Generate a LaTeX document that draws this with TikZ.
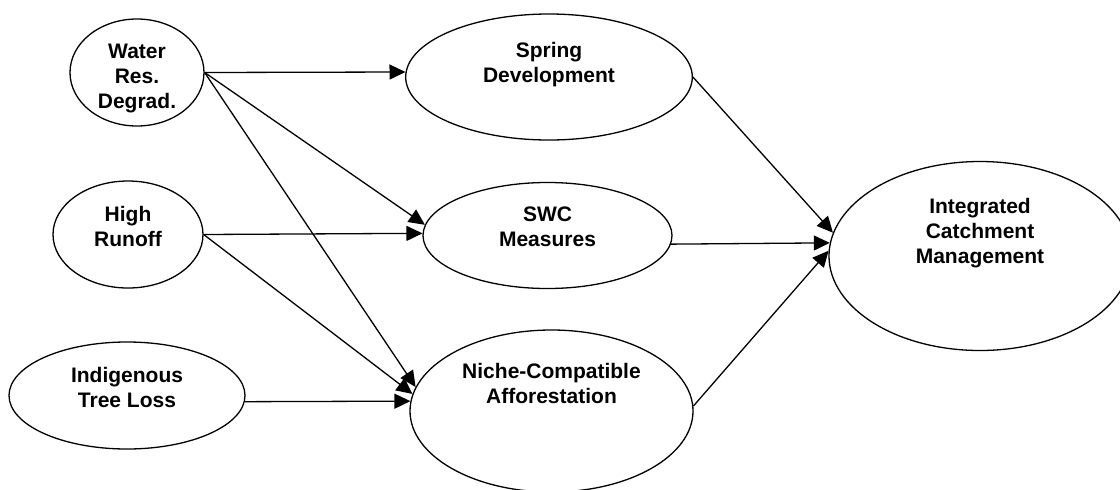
\documentclass[tikz,border=0pt]{standalone}
\usepackage{fontspec}
\setmainfont{Liberation Sans}
\usetikzlibrary{arrows.meta, shapes.geometric}
\tikzset{oval/.style={ellipse, draw=black, line width=0.65pt, inner sep=0pt},ovaltext/.style={font=\bfseries\fontsize{10.5pt}{12.5pt}\selectfont, align=center, inner sep=0pt}}

\begin{document}
\begin{tikzpicture}[
        line join=miter,
        flowarrow/.style={-{Triangle[length=8pt, width=7.5pt]}, line width=0.65pt}
    ]
        \useasboundingbox (0pt, 0pt) rectangle (560pt, -244.5pt);
        % Causes
        \node[oval, minimum width=67pt, minimum height=53.5pt, label={[ovaltext, name=watertext, yshift=-2.8pt]center:Water\\Res.\\Degrad.}] (water) at (68.5pt, -36.25pt) {};
        \node[oval, minimum width=75pt, minimum height=53.5pt, label={[ovaltext, name=runofftext, yshift=4.2pt]center:High\\Runoff}] (runoff) at (64pt, -117.25pt) {};
        \node[oval, minimum width=118pt, minimum height=53.5pt, label={[ovaltext, name=treetext, yshift=4.1pt]center:Indigenous\\Tree Loss}] (tree) at (63.5pt, -197.75pt) {};
        % Measures
        \node[oval, minimum width=143.3pt, minimum height=63pt, label={[ovaltext, name=springtext, yshift=6.45pt]center:Spring\\Development}] (spring) at (274.5pt, -38.5pt) {};
        \node[oval, minimum width=124.5pt, minimum height=53pt, label={[ovaltext, name=swctext, yshift=4.4pt]center:SWC\\Measures}] (swc) at (273.75pt, -117.75pt) {};
        \node[oval, minimum width=141.5pt, minimum height=81pt, label={[ovaltext, name=nichetext, yshift=13.85pt]center:Niche-Compatible\\Afforestation}] (niche) at (275.75pt, -205.5pt) {};
        % Goal
        \node[oval, minimum width=151pt, minimum height=94.5pt, label={[ovaltext, name=icmtext, yshift=11.2pt]center:Integrated\\Catchment\\Management}] (icm) at (490pt, -128pt) {};
        % Links
        \draw[flowarrow] (water.east) -- (spring.178);
        \draw[flowarrow] (water.east) -- (swc.175);
        \draw[flowarrow] (water.east) -- (niche.170);
        \draw[flowarrow] (runoff.east) -- (swc.179);
        \draw[flowarrow] (runoff.east) -- (niche.173);
        \draw[flowarrow] (tree.-3) -- (niche.176);
        \draw[flowarrow] (spring.east) -- (icm.171);
        \draw[flowarrow] (swc.-4) -- (icm.175);
        \draw[flowarrow] (niche.2) -- (icm.178);
    \end{tikzpicture}
\end{document}
